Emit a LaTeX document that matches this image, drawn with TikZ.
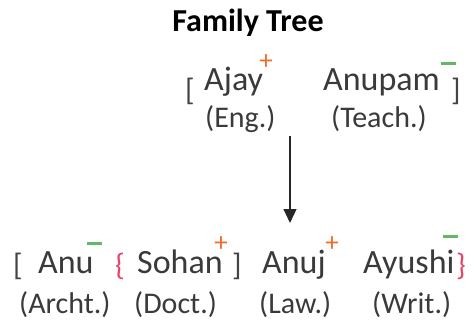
\documentclass[tikz,border=0pt]{standalone}
\usepackage{fontspec}
\setmainfont{Carlito}
\usetikzlibrary{arrows.meta}
\definecolor{txt}{HTML}{3A3A3A}
\definecolor{plusc}{HTML}{F26B2B}
\definecolor{minusc}{HTML}{62B866}
\definecolor{bracec}{HTML}{E8456B}
\definecolor{brk}{HTML}{444444}
\tikzset{
  persontxt/.style={anchor=base west, inner sep=0pt, text=txt, font=\fontsize{34}{34}\selectfont},
  jobtxt/.style={anchor=base west, inner sep=0pt, text=txt, font=\fontsize{30}{30}\selectfont},
  bracktxt/.style={anchor=base west, inner sep=0pt, text=brk, font=\fontsize{31}{31}\selectfont},
  bracetxt/.style={anchor=base west, inner sep=0pt, text=bracec, font=\fontsize{31}{31}\selectfont},
  plusmark/.style={anchor=center, inner sep=0pt, text=plusc, font=\fontsize{27}{27}\selectfont},
  minusmark/.style={fill=minusc, draw=none, minimum width=15pt, minimum height=3pt, inner sep=0pt},
  titletxt/.style={anchor=base, inner sep=0pt, text=black, font=\bfseries\fontsize{32}{32}\selectfont},
}
\begin{document}
\begin{tikzpicture}[x=1pt,y=-1pt]
\useasboundingbox (0,0) rectangle (472,324);
\node[titletxt] (t) at (248,31) {Family Tree};
% top row
\node[bracktxt] (lb1) at (185,100) {[};
\node[persontxt] (ajay) at (204,90) {Ajay};
\node[plusmark] (p1) at (266,62) {+};
\node[persontxt] (anupam) at (323,90) {Anupam};
\node[minusmark] (m1) at (448,63) {};
\node[bracktxt] (rb1) at (451,100) {]};
\node[jobtxt] (eng) at (205,127) {(Eng.)};
\node[jobtxt] (teach) at (331,127) {(Teach.)};
% arrow
\coordinate (a1) at (290,136);
\coordinate (a2) at (290,223);
\draw[line width=1.1pt, draw=black!85, -{Triangle[width=13pt,length=14pt]}] (a1) -- (a2);
% bottom row
\node[bracktxt] (lb2) at (13,275) {[};
\node[persontxt] (anu) at (38,273) {Anu};
\node[minusmark] (m2) at (94,243) {};
\node[bracetxt] (lc) at (115,275) {\{};
\node[persontxt] (sohan) at (137,273) {Sohan};
\node[plusmark] (p2) at (221,244) {+};
\node[bracktxt] (rb2) at (232,275) {]};
\node[persontxt] (anuj) at (262,273) {Anuj};
\node[plusmark] (p3) at (332,244) {+};
\node[persontxt] (ayushi) at (363,273) {Ayushi};
\node[minusmark] (m3) at (450,236) {};
\node[bracetxt] (rc) at (456,275) {\}};
\node[jobtxt] (archt) at (19,313) {(Archt.)};
\node[jobtxt] (doct) at (134,313) {(Doct.)};
\node[jobtxt] (law) at (259,313) {(Law.)};
\node[jobtxt] (writ) at (372,313) {(Writ.)};
\end{tikzpicture}
\end{document}
